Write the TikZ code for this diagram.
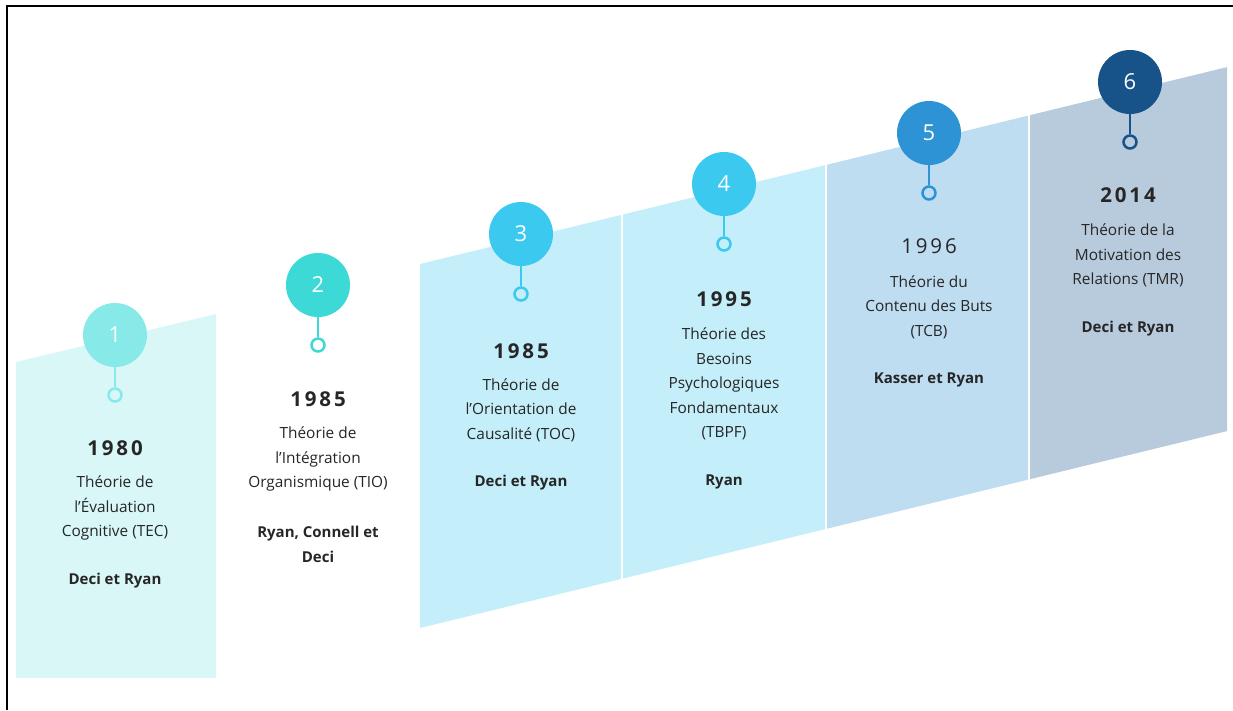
\documentclass[tikz,border=0pt]{standalone}
\usepackage{fontspec}
\setmainfont{Open Sans}
\newfontfamily\yearfont{Open Sans}[LetterSpace=14]
\usepackage{xcolor}

\definecolor{panA}{HTML}{D9F7F7}
\definecolor{panC}{HTML}{C4EEF9}
\definecolor{panE}{HTML}{BFDDF1}
\definecolor{panF}{HTML}{B8CBDD}
\definecolor{dotA}{HTML}{88EAE8}
\definecolor{dotB}{HTML}{3DD9D6}
\definecolor{dotC}{HTML}{3BC9EF}
\definecolor{dotE}{HTML}{2E93D5}
\definecolor{dotF}{HTML}{175289}
\definecolor{ink}{HTML}{262626}

\tikzset{
	numdot/.style={circle, minimum size=64pt, inner sep=0pt, text=white, font=\fontsize{22}{26}\selectfont},
	pindot/.style={circle, minimum size=13pt, inner sep=0pt, line width=2.5pt},
	year/.style={text=ink, font=\yearfont\fontsize{20.5}{24}\selectfont},
	body/.style={text=ink, align=center, inner sep=0pt, font=\fontsize{15.4}{24.6}\selectfont},
	auth/.style={body, font=\bfseries\fontsize{15}{24.6}\selectfont}
}

\begin{document}
\begin{tikzpicture}[x=1pt,y=-1pt]
			\useasboundingbox (0,0) rectangle (1233,710);
			\draw[black, line width=2pt] (7,710) -- (7,6) -- (1233,6);

			% panels
			\fill[panA] (16,362) -- (216,314) -- (216,678) -- (16,678) -- cycle;
			\foreach \xa/\xb/\col in {420/621/panC, 623/825/panC, 827/1028/panE, 1030/1227/panF}
			{
				\fill[\col] (\xa,{264-0.244*(\xa-420)}) -- (\xb,{264-0.244*(\xb-420)})
					-- (\xb,{628-0.244*(\xb-420)}) -- (\xa,{628-0.244*(\xa-420)}) -- cycle;
			}

			% markers
			\foreach \n/\x/\y/\col in {1/115/335/dotA, 2/318/285/dotB, 3/521/234/dotC, 4/724/184/dotC, 5/929/133/dotE, 6/1130/82/dotF}
			{
				\node[numdot, fill=\col] (c\n) at (\x,\y) {\n};
				\node[pindot, draw=\col] (p\n) at (\x,\y+60) {};
				\draw[\col, line width=2.5pt] (c\n) -- (p\n);
			}

			\node[year] (y1) at (115,448) {\bfseries 1980};
			\node[body] (t1) at (115,508) {Théorie de\\l’Évaluation\\Cognitive (TEC)};
			\node[auth] (a1) at (115,581) {Deci et Ryan};

			\node[year] (y2) at (318,399) {\bfseries 1985};
			\node[body] (t2) at (318,459) {Théorie de\\l’Intégration\\Organismique (TIO)};
			\node[auth] (a2) at (318,544.5) {Ryan, Connell et\\Deci};

			\node[year] (y3) at (521,351) {\bfseries 1985};
			\node[body] (t3) at (521,410) {Théorie de\\l’Orientation de\\Causalité (TOC)};
			\node[auth] (a3) at (521,483) {Deci et Ryan};

			\node[year] (y4) at (724,299) {\bfseries 1995};
			\node[body] (t4) at (724,384) {Théorie des\\Besoins\\Psychologiques\\Fondamentaux\\(TBPF)};
			\node[auth] (a4) at (724,482) {Ryan};

			\node[year] (y5) at (929,246) {1996};
			\node[body] (t5) at (929,307) {Théorie du\\Contenu des Buts\\(TCB)};
			\node[auth] (a5) at (929,380) {Kasser et Ryan};

			\node[year] (y6) at (1128,195) {\bfseries 2014};
			\node[body] (t6) at (1128,255.5) {Théorie de la\\Motivation des\\Relations (TMR)};
			\node[auth] (a6) at (1128,329) {Deci et Ryan};
\end{tikzpicture}
\end{document}
